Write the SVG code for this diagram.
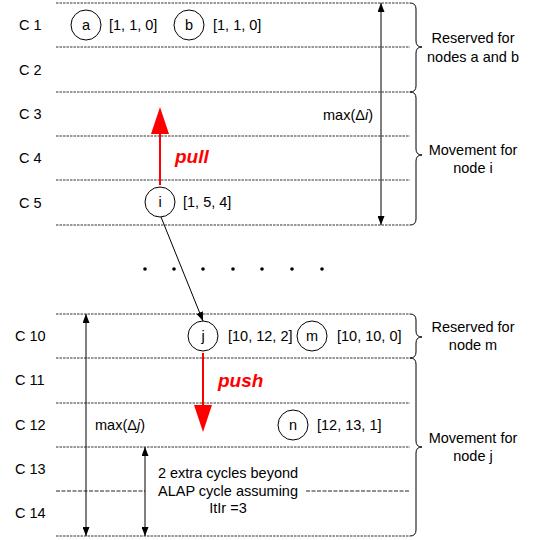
<svg xmlns="http://www.w3.org/2000/svg" width="533" height="540" viewBox="0 0 533 540">
<style>
text{font-family:"Liberation Sans",Arial,sans-serif;font-size:14.5px;fill:#000}
.grid{stroke:#333;stroke-width:1;stroke-dasharray:2.5,1}
.dash{stroke:#222;stroke-width:1;stroke-dasharray:4,1.5}
.brace{fill:none;stroke:#000;stroke-width:1}
.node circle{fill:#fff;stroke:#000;stroke-width:1}
.node text{text-anchor:middle}
.thin{stroke:#000;stroke-width:1;fill:none}
.red{stroke:#ff0000;stroke-width:2;fill:none}
.lbl{text-anchor:middle}
.big{font-size:19px;font-weight:bold;font-style:italic;fill:#ff0000}
</style>
<defs>
<marker id="ah" viewBox="0 0 9 7" refX="9" refY="3.5" markerWidth="9" markerHeight="7" markerUnits="userSpaceOnUse" orient="auto-start-reverse"><path d="M0,0 L9,3.5 L0,7 z" fill="#000"/></marker>
<marker id="rh" viewBox="0 0 27 18" refX="0" refY="9" markerWidth="27" markerHeight="18" markerUnits="userSpaceOnUse" orient="auto"><path d="M0,0 L27,9 L0,18 z" fill="#ff0000"/></marker>
</defs>
<g id="grid">
<line class="grid" x1="56" y1="3" x2="410" y2="3"/>
<line class="grid" x1="56" y1="47" x2="410" y2="47"/>
<line class="grid" x1="56" y1="92" x2="410" y2="92"/>
<line class="grid" x1="56" y1="136" x2="410" y2="136"/>
<line class="grid" x1="56" y1="180" x2="410" y2="180"/>
<line class="grid" x1="56" y1="225" x2="410" y2="225"/>
<line class="grid" x1="56" y1="314" x2="410" y2="314"/>
<line class="grid" x1="56" y1="358" x2="410" y2="358"/>
<line class="grid" x1="56" y1="403" x2="410" y2="403"/>
<line class="grid" x1="56" y1="447" x2="410" y2="447"/>
<line class="dash" x1="56" y1="491" x2="145" y2="491"/>
<line class="dash" x1="306" y1="491" x2="410" y2="491"/>
<line class="grid" x1="56" y1="536" x2="410" y2="536"/>
</g>
<g id="rows">
<text x="19" y="30">C 1</text>
<text x="19" y="75">C 2</text>
<text x="19" y="119">C 3</text>
<text x="19" y="163">C 4</text>
<text x="19" y="208">C 5</text>
<text x="15" y="341">C 10</text>
<text x="15" y="385">C 11</text>
<text x="15" y="430">C 12</text>
<text x="15" y="474">C 13</text>
<text x="15" y="518">C 14</text>
</g>
<g id="dots" fill="#000">
<circle cx="145" cy="269" r="1.8"/><circle cx="174" cy="269" r="1.8"/><circle cx="203" cy="269" r="1.8"/><circle cx="233" cy="269" r="1.8"/><circle cx="262" cy="269" r="1.8"/><circle cx="292" cy="269" r="1.8"/><circle cx="322" cy="269" r="1.8"/>
</g>
<g id="braces">
<path class="brace" d="M410,3 Q416,3 416,9 L416,41 Q416,47 422,47 Q416,47 416,53 L416,86 Q416,92 410,92"/>
<path class="brace" d="M410,92 Q416,92 416,98 L416,149 Q416,155 422,155 Q416,155 416,161 L416,219 Q416,225 410,225"/>
<path class="brace" d="M410,314 Q416,314 416,320 L416,331 Q416,337 422,337 Q416,337 416,343 L416,352 Q416,358 410,358"/>
<path class="brace" d="M410,358 Q416,358 416,364 L416,441 Q416,447 422,447 Q416,447 416,453 L416,530 Q416,536 410,536"/>
<text class="lbl" x="473" y="43">Reserved for</text>
<text class="lbl" x="473" y="62">nodes a and b</text>
<text class="lbl" x="473" y="155">Movement for</text>
<text class="lbl" x="473" y="173">node i</text>
<text class="lbl" x="473" y="332">Reserved for</text>
<text class="lbl" x="473" y="350">node m</text>
<text class="lbl" x="473" y="443">Movement for</text>
<text class="lbl" x="473" y="461">node j</text>
</g>
<g id="node-a" class="node"><circle cx="86" cy="25" r="15"/><text x="86" y="30">a</text></g>
<text x="109" y="30">[1, 1, 0]</text>
<g id="node-b" class="node"><circle cx="189" cy="25" r="15"/><text x="189" y="30">b</text></g>
<text x="213" y="30">[1, 1, 0]</text>
<g id="node-i" class="node"><circle cx="160" cy="202" r="15"/><text x="160" y="207">i</text></g>
<text x="183" y="207">[1, 5, 4]</text>
<g id="node-j" class="node"><circle cx="203" cy="336" r="15"/><text x="203" y="341">j</text></g>
<text x="228" y="341">[10, 12, 2]</text>
<g id="node-m" class="node"><circle cx="312" cy="336" r="15"/><text x="312" y="341">m</text></g>
<text x="337" y="341">[10, 10, 0]</text>
<g id="node-n" class="node"><circle cx="293" cy="425" r="15"/><text x="293" y="430">n</text></g>
<text x="317" y="430">[12, 13, 1]</text>
<g id="connectors">
<line class="thin" x1="161" y1="217" x2="203" y2="321" marker-end="url(#ah)"/>
<line class="red" x1="160" y1="185" x2="160" y2="134" marker-end="url(#rh)"/>
<line class="red" x1="203" y1="353" x2="203" y2="405" marker-end="url(#rh)"/>
<line class="thin" x1="381" y1="3" x2="381" y2="225" marker-start="url(#ah)" marker-end="url(#ah)"/>
<line class="thin" x1="86" y1="314" x2="86" y2="536" marker-start="url(#ah)" marker-end="url(#ah)"/>
<line class="thin" x1="145" y1="447" x2="145" y2="536" marker-start="url(#ah)" marker-end="url(#ah)"/>
</g>
<g id="labels">
<text class="big" x="175" y="163">pull</text>
<text class="big" x="218" y="387">push</text>
<text x="323" y="120">max(Δ<tspan font-style="italic">i</tspan>)</text>
<text x="95" y="430">max(Δ<tspan font-style="italic">j</tspan>)</text>
<text class="lbl" x="228" y="478">2 extra cycles beyond</text>
<text class="lbl" x="228" y="496">ALAP cycle assuming</text>
<text class="lbl" x="228" y="513">ItIr =3</text>
</g>
</svg>
